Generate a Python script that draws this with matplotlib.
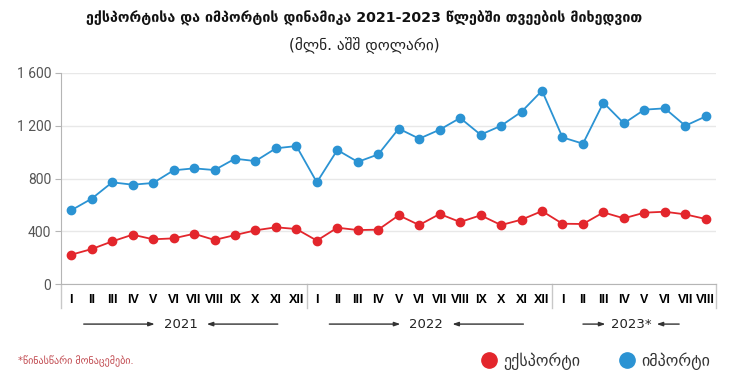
import matplotlib
matplotlib.use('Agg')
import matplotlib.pyplot as plt
from matplotlib.lines import Line2D
import matplotlib.transforms as mtransforms

months_2021 = ['I', 'II', 'III', 'IV', 'V', 'VI', 'VII', 'VIII', 'IX', 'X', 'XI', 'XII']
months_2022 = ['I', 'II', 'III', 'IV', 'V', 'VI', 'VII', 'VIII', 'IX', 'X', 'XI', 'XII']
months_2023 = ['I', 'II', 'III', 'IV', 'V', 'VI', 'VII', 'VIII']
years = ['2021', '2022', '2023*']

exports = [222, 265, 323, 374, 339, 346, 381, 334, 371, 407, 430, 417,
           329, 427, 409, 412, 521, 447, 531, 470, 521, 447, 488, 553,
           457, 455, 543, 498, 541, 548, 528, 493]
imports = [559, 647, 771, 753, 766, 862, 877, 864, 950, 932, 1029, 1046,
           771, 1016, 926, 983, 1178, 1102, 1170, 1259, 1132, 1200, 1306, 1466,
           1112, 1064, 1375, 1218, 1322, 1332, 1200, 1271]

RED = '#e3262c'
BLUE = '#2b93d3'

plt.rcParams['font.family'] = ['DejaVu Sans']

fig = plt.figure(figsize=(7.29, 3.85), dpi=100)
ax = fig.add_axes([61 / 729, 1 - 284 / 385, 655 / 729, 211 / 385])

labels = months_2021 + months_2022 + months_2023
x = list(range(len(labels)))

ax.plot(x, imports, color=BLUE, lw=1.3, marker='o', ms=6, zorder=3)
ax.plot(x, exports, color=RED, lw=1.3, marker='o', ms=6, zorder=3)

ax.set_xlim(-0.5, len(labels) - 0.5)
ax.set_ylim(0, 1600)
ax.set_yticks([0, 400, 800, 1200, 1600])
ax.set_yticklabels(['0', '400', '800', '1 200', '1 600'], family=['Roboto', 'DejaVu Sans'])
ax.grid(axis='y', color='#e8e8e8', lw=1)
ax.set_axisbelow(True)
for s in ['top', 'right']:
    ax.spines[s].set_visible(False)
ax.spines['left'].set_color('#b5b5b5')
ax.spines['bottom'].set_color('#b5b5b5')
ax.tick_params(axis='y', length=4, color='#b5b5b5', labelcolor='#555555', labelsize=10, pad=3)
ax.set_xticks(x)
ax.set_xticklabels(labels, fontsize=9, fontweight='bold', color='black',
                   family=['Liberation Sans', 'DejaVu Sans'])
ax.tick_params(axis='x', length=0, pad=7)

# year separators and labels below the axis
trans = mtransforms.blended_transform_factory(ax.transData, ax.transAxes)
n1, n2, n3 = len(months_2021), len(months_2022), len(months_2023)
for xs in [-0.5, n1 - 0.5, n1 + n2 - 0.5, n1 + n2 + n3 - 0.5]:
    ax.plot([xs, xs], [0, -0.115], color='#c8c8c8', lw=1, transform=trans, clip_on=False)

groups = [(0, n1, 1.27, 3.47), (n1, n2, 1.27, 3.47), (n1 + n2, n3, 1.25, 1.1)]
for (start, n, gap, length), yr in zip(groups, years):
    c = start + (n - 1) / 2 - 0.15
    ax.text(c, -0.19, yr, transform=trans, ha='center', va='center', fontsize=9.5, color='#222222')
    arrow = dict(arrowstyle='-|>,head_length=0.35,head_width=0.12', color='#333333', lw=1,
                 shrinkA=0, shrinkB=0)
    ax.annotate('', xy=(c - gap, -0.19), xytext=(c - gap - length, -0.19),
                xycoords=trans, textcoords=trans, arrowprops=arrow, annotation_clip=False)
    ax.annotate('', xy=(c + gap, -0.19), xytext=(c + gap + length, -0.19),
                xycoords=trans, textcoords=trans, arrowprops=arrow, annotation_clip=False)

fig.text(0.5, 1 - 18 / 385, 'ექსპორტისა და იმპორტის დინამიკა 2021-2023 წლებში თვეების მიხედვით',
         ha='center', va='center', fontsize=10.3, fontweight='bold', color='#111111')
fig.text(0.5, 1 - 45 / 385, '(მლნ. აშშ დოლარი)', ha='center', va='center', fontsize=11, color='#222222')

fig.text(18 / 729, 1 - 361 / 385, '*წინასწარი მონაცემები.', ha='left', va='center',
         fontsize=7.2, color='#c0474d')

handles = [Line2D([], [], ls='none', marker='o', ms=11, color=RED),
           Line2D([], [], ls='none', marker='o', ms=11, color=BLUE)]
fig.legend(handles, ['ექსპორტი', 'იმპორტი'], loc='center right', bbox_to_anchor=(725 / 729, 1 - 361 / 385),
           ncol=2, frameon=False, fontsize=11.5, handletextpad=0.35, columnspacing=2.4,
           handlelength=1.1, labelcolor='#333333')

fig.savefig('out.png', dpi=100)
